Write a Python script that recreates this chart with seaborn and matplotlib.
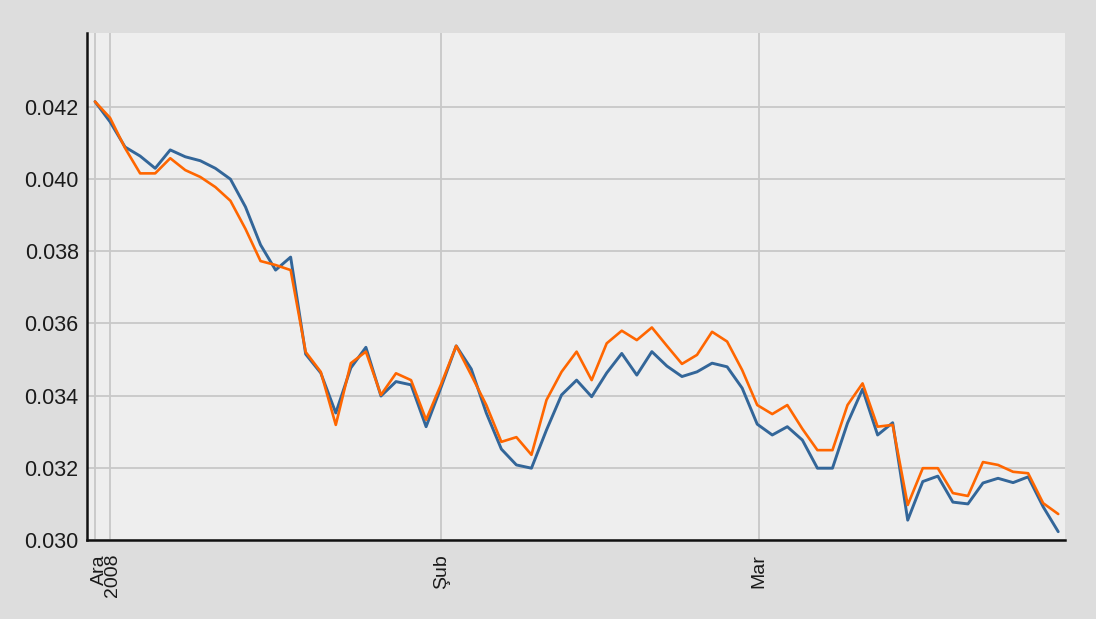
import numpy as np
import pandas as pd
import matplotlib
matplotlib.use("Agg")
import matplotlib.pyplot as plt
from matplotlib.ticker import MultipleLocator, FixedLocator
import seaborn as sns

# ---- data (daily observations, index = trading day) ----
blue_values = [0.04215, 0.04159, 0.04089, 0.04064, 0.04030, 0.04081, 0.04062, 0.04051, 0.04030, 0.04000,
               0.03923, 0.03818, 0.03748, 0.03784, 0.03515, 0.03463, 0.03352, 0.03477, 0.03534, 0.03399,
               0.03439, 0.03430, 0.03314, 0.03424, 0.03538, 0.03474, 0.03352, 0.03252, 0.03208, 0.03199,
               0.03305, 0.03402, 0.03443, 0.03397, 0.03463, 0.03517, 0.03457, 0.03522, 0.03482, 0.03453,
               0.03466, 0.03490, 0.03480, 0.03421, 0.03321, 0.03291, 0.03314, 0.03277, 0.03199, 0.03199,
               0.03324, 0.03418, 0.03291, 0.03325, 0.03055, 0.03162, 0.03177, 0.03105, 0.03100, 0.03158,
               0.03171, 0.03159, 0.03175, 0.03092, 0.03023]
orange_values = [0.04215, 0.04170, 0.04086, 0.04016, 0.04016, 0.04058, 0.04025, 0.04006, 0.03978, 0.03940,
                 0.03862, 0.03773, 0.03762, 0.03748, 0.03521, 0.03466, 0.03319, 0.03490, 0.03522, 0.03402,
                 0.03462, 0.03443, 0.03333, 0.03432, 0.03538, 0.03457, 0.03374, 0.03272, 0.03285, 0.03236,
                 0.03388, 0.03466, 0.03522, 0.03443, 0.03545, 0.03580, 0.03554, 0.03589, 0.03538, 0.03488,
                 0.03513, 0.03577, 0.03550, 0.03471, 0.03374, 0.03349, 0.03374, 0.03308, 0.03249, 0.03249,
                 0.03374, 0.03434, 0.03314, 0.03319, 0.03097, 0.03199, 0.03199, 0.03130, 0.03122, 0.03216,
                 0.03208, 0.03189, 0.03185, 0.03102, 0.03072]
series_names = ["A", "B"]
tick_labels = ["Ara\n2008", "Şub", "Mar"]
y_tick_values = [0.030, 0.032, 0.034, 0.036, 0.038, 0.040, 0.042]

day_index = np.arange(len(blue_values))
df = pd.DataFrame({
    "day": np.concatenate([day_index, day_index]),
    "value": blue_values + orange_values,
    "series": [series_names[0]] * len(blue_values) + [series_names[1]] * len(orange_values),
})

sns.set_style("white")
plt.rcParams["font.family"] = ["Liberation Sans", "DejaVu Sans"]

fig = plt.figure(figsize=(10.96, 6.19), dpi=100)
fig.patch.set_facecolor("#DDDDDD")
ax = fig.add_axes([87 / 1096, 79 / 619, (1065 - 87) / 1096, (540 - 33) / 619])
ax.set_facecolor("#EEEEEE")

sns.lineplot(data=df, x="day", y="value", hue="series",
             palette={"A": "#336699", "B": "#FF6600"},
             linewidth=2.1, legend=False, ax=ax, estimator=None)
lines = ax.get_lines()
if len(lines) >= 2:
    lines[1].set_linewidth(1.9)

ax.set_xlim(-0.53, 64.45)
ax.set_ylim(0.030, 0.04405)

# grid
ax.yaxis.set_major_locator(FixedLocator(y_tick_values))
ax.yaxis.set_minor_locator(MultipleLocator(0.001))
ax.set_yticklabels([f"{v:.3f}" for v in y_tick_values])
ax.grid(axis="y", which="major", color="#C8C8C8", linewidth=1.3)
for gx in [0, 1, 23, 44.1]:
    ax.axvline(gx, color="#C8C8C8", linewidth=1.3, zorder=0.5)

ax.set_xticks([0.7, 23, 44.1])
ax.set_xticklabels(tick_labels, rotation=90, va="top", ha="center",
                   multialignment="right", linespacing=0.7)
ax.tick_params(axis="x", length=0, pad=10, labelsize=14, colors="#1a1a1a")
ax.tick_params(axis="y", which="major", direction="inout", length=6, width=1.4,
               pad=3, labelsize=15.5, colors="black")
ax.tick_params(axis="y", which="minor", direction="inout", length=6, width=1.4, colors="black")
for lab in ax.get_yticklabels():
    lab.set_color("#1a1a1a")

for s in ["top", "right"]:
    ax.spines[s].set_visible(False)
for s in ["left", "bottom"]:
    ax.spines[s].set_color("#111111")
    ax.spines[s].set_linewidth(1.8)

ax.set_xlabel("")
ax.set_ylabel("")

fig.savefig("out.png", dpi=100, facecolor=fig.get_facecolor())
